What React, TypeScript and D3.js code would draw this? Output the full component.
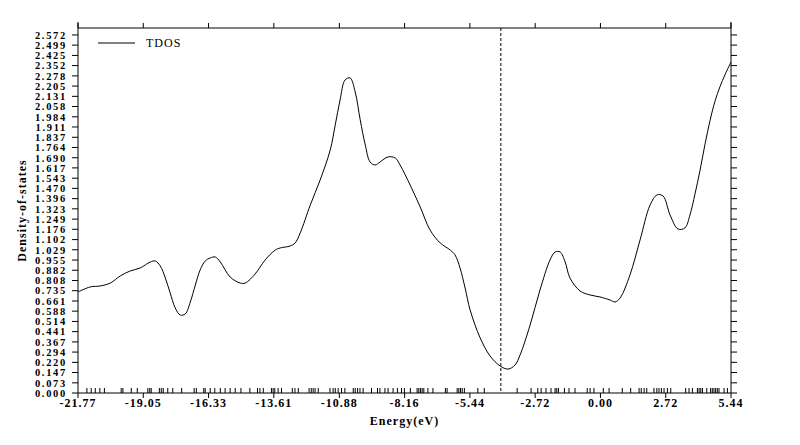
import React from "react";
import * as d3 from "d3";

const xTicks = [-21.77, -19.05, -16.33, -13.61, -10.88, -8.16, -5.44, -2.72, 0.0, 2.72, 5.44];
const yTicks = [
  0.0, 0.073, 0.147, 0.22, 0.294, 0.367, 0.441, 0.514, 0.588, 0.661, 0.735, 0.808,
  0.882, 0.955, 1.029, 1.102, 1.176, 1.249, 1.323, 1.396, 1.47, 1.543, 1.617, 1.69,
  1.764, 1.837, 1.911, 1.984, 2.058, 2.131, 2.205, 2.278, 2.352, 2.425, 2.499, 2.572,
];
const fermiLevel = -4.15;

const energy = [
  -21.77, -21.26, -20.84, -20.42, -20.01, -19.59, -19.18, -18.76, -18.55, -18.34, -18.13,
  -17.93, -17.72, -17.51, -17.3, -17.09, -16.88, -16.68, -16.47, -16.26, -16.05, -15.84,
  -15.43, -15.01, -14.8, -14.39, -13.97, -13.55, -13.34, -12.93, -12.72, -12.51, -12.09,
  -11.68, -11.26, -11.05, -10.85, -10.64, -10.43, -10.22, -10.01, -9.8, -9.6, -9.39, -9.18,
  -8.85, -8.55, -8.35, -7.93, -7.51, -7.1, -6.68, -6.26, -6.06, -5.85, -5.64, -5.43, -5.01,
  -4.6, -4.18, -3.85, -3.56, -3.35, -2.93, -2.52, -2.1, -1.89, -1.68, -1.47, -1.27, -0.85,
  -0.43, -0.02, 0.4, 0.61, 0.82, 1.23, 1.65, 2.07, 2.36, 2.61, 2.9, 3.23, 3.52, 3.73, 3.94, 4.15,
  4.36, 4.57, 4.78, 4.98, 5.2, 5.44,
];
const tdos = [
  0.726, 0.762, 0.769, 0.79, 0.841, 0.877, 0.898, 0.941, 0.948, 0.912, 0.826,
  0.719, 0.611, 0.56, 0.568, 0.654, 0.776, 0.884, 0.948, 0.97, 0.977, 0.941,
  0.833, 0.79, 0.79, 0.855, 0.956, 1.027, 1.042, 1.056, 1.078, 1.15, 1.351,
  1.53, 1.746, 1.926, 2.105, 2.249, 2.263, 2.163, 1.962, 1.782, 1.66, 1.638, 1.66,
  1.696, 1.688, 1.638, 1.494, 1.336, 1.171, 1.078, 1.027, 0.992, 0.898, 0.754, 0.596, 0.395,
  0.266, 0.194, 0.172, 0.201, 0.273, 0.489, 0.74, 0.956, 1.013, 1.013, 0.941, 0.826, 0.733,
  0.704, 0.69, 0.668, 0.654, 0.683, 0.848, 1.099, 1.351, 1.423, 1.415, 1.279, 1.178, 1.186, 1.279, 1.43, 1.6,
  1.79, 1.96, 2.1, 2.2, 2.29, 2.378,
];

const rugEnergies = [
  -21.4, -21.22, -21.05, -20.86, -20.67, -19.97, -19.9, -19.55, -19.3, -18.86, -18.78, -18.72,
  -18.38, -18.3, -18.22, -18.03, -17.82, -17.45, -16.93, -16.84, -16.53, -16.47, -16.26, -16.07,
  -15.84, -15.64, -15.43, -15.22, -14.98, -14.61, -14.29, -14.19, -14.05, -13.71, -13.64, -13.57,
  -13.43, -13.29, -12.84, -12.73, -12.59, -12.14, -12.05, -11.97, -11.89, -11.76, -11.27, -11.14,
  -11.05, -10.93, -10.79, -10.65, -10.3, -10.22, -10.12, -10.02, -9.89, -9.54, -9.29, -9.19,
  -8.98, -8.85, -8.64, -8.46, -8.29, -8.17, -7.92, -7.64, -7.57, -7.5, -7.43, -7.36, -7.19,
  -6.98, -6.46, -6.39, -5.97, -5.9, -5.83, -5.76, -5.67, -5.11, -4.84, -3.47, -2.89, -2.61,
  -2.47, -2.27, -2.06, -1.89, -1.82, -1.75, -1.5, -1.31, -1.06, -0.55, -0.43, -0.27, 0.12,
  0.36, 0.91, 1.26, 1.61, 1.7, 1.82, 1.93, 2.23, 2.35, 2.44, 2.54, 2.65, 2.79, 2.93, 3.55,
  3.69, 3.83, 4.04, 4.11, 4.18, 4.25, 4.43, 4.59, 4.66, 4.73, 4.8, 4.87, 4.94, 5.15, 5.29,
];

const W = 800;
const H = 445;
const L = 78;
const R = 731;
const T = 28;
const B = 393;

export default function App() {
  const x = d3.scaleLinear().domain([-21.77, 5.44]).range([L, R]);
  const y = d3.scaleLinear().domain([0, 2.622]).range([B, T]);
  const pts = energy.map((e, i) => [e, tdos[i]] as [number, number]);
  const line = d3
    .line<[number, number]>()
    .x((d) => x(d[0]))
    .y((d) => y(d[1]))
    .curve(d3.curveCatmullRom.alpha(0.5));
  const font = "'Liberation Serif', 'DejaVu Serif', serif";
  return (
    <svg
      width={W}
      height={H}
      style={{ position: "absolute", left: 0, top: 0, background: "#fff" }}
      fontFamily={font}
    >
      <rect x={0} y={0} width={W} height={H} fill="#fff" />
      {/* frame */}
      <line x1={L} x2={R} y1={T} y2={T} stroke="#000" strokeWidth={1} />
      <line x1={L} x2={R} y1={B} y2={B} stroke="#000" strokeWidth={1} />
      <line x1={L} x2={L} y1={T - 6} y2={B} stroke="#000" strokeWidth={1} />
      <line x1={R} x2={R} y1={T - 6} y2={B} stroke="#000" strokeWidth={1} />
      {/* y ticks */}
      {yTicks.map((v) => (
        <g key={"y" + v}>
          <line x1={L - 6} x2={L} y1={y(v)} y2={y(v)} stroke="#000" />
          <line x1={R} x2={R + 6} y1={y(v)} y2={y(v)} stroke="#000" />
          <text
            x={L - 11}
            y={y(v)}
            dy="0.36em"
            textAnchor="end"
            fontSize={10.5}
            fontWeight="bold"
            letterSpacing={1.7}
          >
            {v.toFixed(3)}
          </text>
        </g>
      ))}
      {/* x ticks */}
      {xTicks.map((v) => (
        <g key={"x" + v}>
          <line x1={x(v)} x2={x(v)} y1={B} y2={B + 5} stroke="#000" />
          <line x1={x(v)} x2={x(v)} y1={T - 5} y2={T} stroke="#000" />
          <text
            x={x(v)}
            y={407}
            textAnchor="middle"
            fontSize={12}
            fontWeight="bold"
            letterSpacing={1}
          >
            {v.toFixed(2)}
          </text>
        </g>
      ))}
      {/* rug */}
      {rugEnergies.map((e, i) => (
        <line key={"r" + i} x1={x(e)} x2={x(e)} y1={B - 5} y2={B} stroke="#000" strokeWidth={1} />
      ))}
      {/* fermi level */}
      <line
        x1={x(fermiLevel)}
        x2={x(fermiLevel)}
        y1={T}
        y2={B}
        stroke="#000"
        strokeWidth={1}
        strokeDasharray="3,2"
      />
      {/* curve */}
      <path d={line(pts) || ""} fill="none" stroke="#000" strokeWidth={1} />
      {/* legend */}
      <line x1={98} x2={135} y1={43} y2={43} stroke="#000" strokeWidth={1} />
      <text x={146} y={47} fontSize={12} letterSpacing={1}>
        TDOS
      </text>
      {/* axis titles */}
      <text
        x={(L + R) / 2}
        y={425}
        textAnchor="middle"
        fontSize={12}
        fontWeight="bold"
        letterSpacing={1}
      >
        Energy(eV)
      </text>
      <text
        transform={`translate(26,${(T + B) / 2}) rotate(-90)`}
        textAnchor="middle"
        fontSize={12}
        fontWeight="bold"
        letterSpacing={1}
      >
        Density-of-states
      </text>
    </svg>
  );
}
